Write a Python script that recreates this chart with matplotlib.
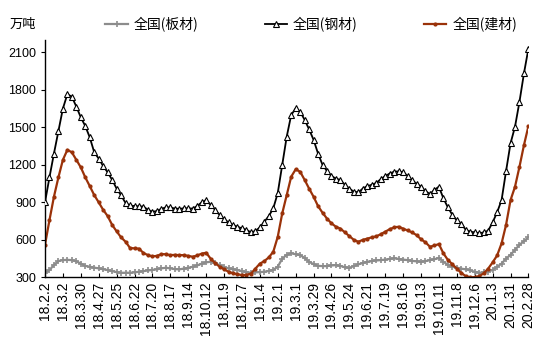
import matplotlib
matplotlib.use("Agg")
import matplotlib.pyplot as plt
from matplotlib.lines import Line2D

plt.rcParams['font.family'] = ['Liberation Sans', 'Noto Sans CJK SC', 'DejaVu Sans']

tick_labels = ["18.2.2", "18.3.2", "18.3.30", "18.4.27", "18.5.25", "18.6.22", "18.7.20",
               "18.8.17", "18.9.14", "18.10.12", "18.11.9", "18.12.7", "19.1.4", "19.2.1",
               "19.3.1", "19.3.29", "19.4.26", "19.5.24", "19.6.21", "19.7.19", "19.8.16",
               "19.9.13", "19.10.11", "19.11.8", "19.12.6", "20.1.3", "20.1.31", "20.2.28"]

steel = [900, 1100, 1290, 1470, 1650, 1765, 1745, 1665, 1580, 1510,
         1420, 1300, 1250, 1190, 1140, 1080, 1010, 955, 895, 875,
         870, 868, 866, 840, 825, 830, 848, 860, 860, 850,
         848, 852, 852, 850, 870, 900, 918, 880, 840, 800,
         765, 740, 718, 705, 692, 680, 660, 670, 700, 745,
         790, 852, 975, 1200, 1425, 1598, 1652, 1625, 1560, 1484,
         1400, 1290, 1200, 1150, 1110, 1090, 1078, 1040, 1010, 985,
         980, 1010, 1030, 1040, 1055, 1085, 1110, 1130, 1145, 1148,
         1140, 1112, 1075, 1050, 1025, 990, 966, 1000, 1025, 932,
         860, 800, 755, 730, 680, 665, 660, 652, 660, 673,
         740, 820, 918, 1150, 1372, 1505, 1705, 1932, 2130]

build = [560, 758, 945, 1100, 1240, 1320, 1300, 1240, 1180, 1100,
         1030, 958, 900, 840, 790, 720, 668, 620, 585, 535,
         532, 530, 495, 478, 468, 472, 486, 485, 478, 480,
         478, 478, 472, 465, 475, 490, 497, 450, 415, 385,
         365, 345, 332, 325, 318, 320, 330, 370, 410, 430,
         460, 505, 625, 812, 958, 1105, 1164, 1145, 1080, 1010,
         945, 870, 817, 770, 732, 705, 690, 660, 630, 600,
         585, 600, 610, 620, 628, 645, 665, 685, 700, 705,
         690, 675, 660, 638, 605, 580, 545, 555, 566, 492,
         440, 405, 370, 335, 310, 300, 302, 310, 332, 370,
         420, 475, 572, 720, 918, 1025, 1185, 1358, 1510]

plate = [337, 358, 400, 430, 438, 440, 438, 428, 410, 392,
         385, 378, 372, 365, 358, 350, 342, 337, 337, 337,
         340, 345, 350, 355, 360, 364, 372, 377, 372, 366,
         364, 370, 377, 385, 395, 410, 420, 425, 412, 398,
         382, 372, 365, 358, 350, 342, 337, 340, 342, 345,
         352, 360, 385, 450, 480, 492, 485, 478, 455, 425,
         405, 392, 390, 390, 395, 398, 392, 380, 377, 390,
         404, 415, 425, 430, 435, 438, 442, 448, 452, 448,
         442, 438, 432, 428, 425, 430, 438, 445, 455, 425,
         400, 385, 378, 370, 364, 355, 345, 337, 340, 345,
         360, 385, 410, 450, 480, 520, 560, 590, 620]

names = ["全国(板材)", "全国(钢材)", "全国(建材)"]
gray = "#8C8C8C"
red = "#9A3209"

fig = plt.figure(figsize=(5.5, 3.52), dpi=100)
ax = fig.add_axes([0.0818, 0.212, 0.879, 0.675])

x = list(range(len(steel)))
ax.plot(x, plate, color=gray, lw=1.6, marker='+', ms=4, mew=1.2, zorder=2)
ax.plot(x, steel, color='black', lw=1.3, marker='^', ms=4, mfc='white', mec='black', mew=0.8, zorder=3)
ax.plot(x, build, color=red, lw=1.6, marker='o', ms=2.0, mfc=red, mec=red, zorder=2)

ax.set_xlim(0, len(steel) - 1)
ax.set_ylim(300, 2200)
ax.set_yticks(range(300, 2101, 300))
ax.set_xticks(range(0, len(steel), 4))
ax.set_xticklabels(tick_labels, rotation=90)
ax.tick_params(axis='x', direction='in', length=3, labelsize=10, pad=3)
ax.tick_params(axis='y', direction='out', length=3, labelsize=9)
for s in ['top', 'right']:
    ax.spines[s].set_visible(False)
for s in ['left', 'bottom']:
    ax.spines[s].set_linewidth(1.0)

fig.text(0.018, 0.93, "万吨", fontsize=9.5, family=['Noto Sans CJK SC'], va='center')

handles = [
    Line2D([], [], color=gray, lw=1.6, marker='+', ms=4, mew=1.2),
    Line2D([], [], color='black', lw=1.3, marker='^', ms=4, mfc='white', mec='black', mew=0.8),
    Line2D([], [], color=red, lw=1.6, marker='o', ms=2.0, mfc=red, mec=red),
]
fig.legend(handles, names, loc='center', bbox_to_anchor=(0.566, 0.93), ncol=3,
           frameon=False, prop={'family': 'Noto Sans CJK SC', 'size': 10},
           handlelength=1.6, handletextpad=0.45, columnspacing=4.75, markerscale=1.0,
           borderpad=0.0)

fig.savefig("out.png", dpi=100)
